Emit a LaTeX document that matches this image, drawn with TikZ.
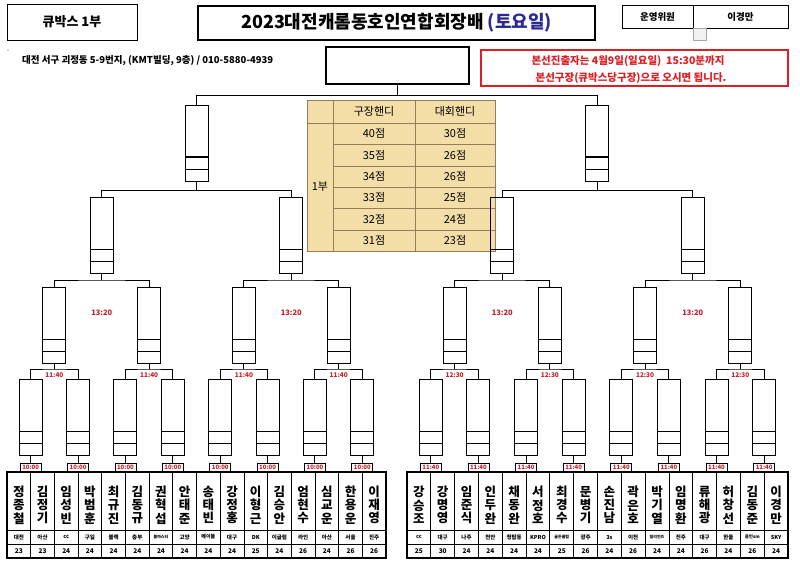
\documentclass[tikz,border=0pt]{standalone}
\usepackage{fontspec}
\setmainfont{Noto Sans CJK KR}
\usetikzlibrary{calc}
\definecolor{tanfill}{RGB}{244,222,168}
\definecolor{tanline}{RGB}{150,125,90}
\definecolor{tmred}{RGB}{200,30,40}
\definecolor{notered}{RGB}{222,30,36}
\definecolor{navyblue}{RGB}{40,40,150}

\newcommand\bracketside[8]{%
  \node[mbox] (#3a) at ({#1+8*#2},143) {};
  \foreach \k in {4,12}{\node[mbox] (#3b\k) at ({#1+\k*#2},235.5) {};}
  \foreach \k in {2,6,10,14}{\node[mbox] (#3c\k) at ({#1+\k*#2},325.5) {};}
  \foreach \k in {1,3,...,15}{%
    \node[mbox] (#3d\k) at ({#1+\k*#2},417.5) {};
    \node[tbox] (#3t\k) at ({#1+\k*#2},467.5) {#5};
    \draw[link] (#3d\k.south) -- (#3t\k.north);}
  \path (#3a.south) ++(0,9) coordinate (#3ja);
  \draw[link] (#3a.south) -- (#3ja);
  \draw[link] (#3b4.north) |- (#3ja) -| (#3b12.north);
  \foreach \k in {4,12}{%
    \pgfmathtruncatemacro\ka{\k-2}\pgfmathtruncatemacro\kb{\k+2}%
    \path (#3b\k.south) ++(0,6) coordinate (#3jb\k);
    \draw[link] (#3b\k.south) -- (#3jb\k);
    \draw[link] (#3c\ka.north) |- (#3jb\k) -| (#3c\kb.north);
    \node[tm, font=\fontsize{7.5}{8}\selectfont\bfseries] (#3m\k) at ({#1+\k*#2},313) {13:20};}
  \foreach \k in {2,6,10,14}{%
    \pgfmathtruncatemacro\ka{\k-1}\pgfmathtruncatemacro\kb{\k+1}%
    \path (#3c\k.south) ++(0,5) coordinate (#3jc\k);
    \draw[link] (#3c\k.south) -- (#3jc\k);
    \draw[link] (#3d\ka.north) |- (#3jc\k) -| (#3d\kb.north);
    \node[tm] (#3n\k) at ({#1+\k*#2},375.5) {#4};}
  \foreach \k in {1,...,15}{\draw[gridline] ({#1+\k*#2},472) -- ({#1+\k*#2},558);}
  \draw[gridline] (#1,530) -- ({#1+16*#2},530);
  \draw[gridline] (#1,544) -- ({#1+16*#2},544);
  \draw[outerline] (#1,472) rectangle ({#1+16*#2},558);
  \foreach \nm [count=\c from 0] in {#6}{%
    \node[namefont] (#3p\c) at ({#1+(\c+0.5)*#2},505) {\nm};}
  \foreach \cl [count=\c from 0] in {#7}{%
    \node[clubfont] (#3q\c) at ({#1+(\c+0.5)*#2},537) {\cl};}
  \foreach \sc [count=\c from 0] in {#8}{%
    \node[scorefont] (#3s\c) at ({#1+(\c+0.5)*#2},551.5) {\sc};}
}

\begin{document}
\begin{tikzpicture}[x=1pt,y=-1pt,
  mbox/.style={draw, line width=1pt, minimum width=23pt, minimum height=76pt, inner sep=0pt,
    path picture={\draw[line width=1pt] ([yshift=12pt]path picture bounding box.south west) -- ([yshift=12pt]path picture bounding box.south east);
                  \draw[line width=1.2pt] ([yshift=24pt]path picture bounding box.south west) -- ([yshift=24pt]path picture bounding box.south east);}},
  link/.style={line width=1pt},
  tm/.style={text=tmred, font=\fontsize{6.5}{7}\selectfont\bfseries, inner sep=0.5pt},
  tbox/.style={draw, line width=0.8pt, minimum width=21pt, minimum height=9pt, inner sep=0pt, fill=white, text=tmred, font=\fontsize{6}{7}\selectfont\bfseries},
  gridline/.style={line width=0.8pt},
  outerline/.style={line width=1.2pt},
  namefont/.style={align=center, inner sep=0pt, font=\fontsize{12.5}{13.3}\selectfont\bfseries},
  clubfont/.style={inner sep=0pt, font=\fontsize{5.5}{6}\selectfont\bfseries},
  scorefont/.style={inner sep=0pt, font=\fontsize{6.5}{7}\selectfont\bfseries},
  tline/.style={draw=tanline, line width=0.6pt},
  ttext/.style={inner sep=0pt, font=\fontsize{11}{12}\selectfont}
]
\useasboundingbox (0,0) rectangle (800,568);
\fill[white] (0,0) rectangle (800,568);

% header
\node[draw, line width=1pt, minimum width=130pt, minimum height=36pt, inner sep=0pt,
  font=\fontsize{13}{15}\selectfont\bfseries] (clubbox) at (72,22) {큐박스 1부};
\node[draw, line width=2pt, minimum width=397pt, minimum height=34pt, inner sep=0pt,
  font=\fontsize{18}{20}\selectfont\bfseries] (titlebox) at (396.5,22.5) {2023대전캐롬동호인연합회장배 \textcolor{navyblue}{(토요일)}};
\node[draw, line width=1pt, minimum width=71pt, minimum height=23pt, inner sep=0pt,
  font=\fontsize{9.5}{11}\selectfont\bfseries] (staffa) at (657.5,16.5) {운영위원};
\node[draw, line width=1pt, minimum width=95pt, minimum height=23pt, inner sep=0pt,
  font=\fontsize{9.5}{11}\selectfont\bfseries] (staffb) at (740.5,16.5) {이경만};
\node[draw=gray!70, fill=gray!10, line width=0.8pt, minimum width=13pt, minimum height=12pt, inner sep=0pt] (greysq) at (699.5,34) {};
\fill[gray!60] (8,50) circle (0.8);
\node[anchor=west, inner sep=0pt, font=\fontsize{9.5}{11}\selectfont\bfseries] (addr) at (22,61)
  {대전 서구 괴정동 5-9번지, (KMT빌딩, 9층) / 010-5880-4939};
\node[draw, line width=1.1pt, minimum width=143pt, minimum height=37pt, inner sep=0pt] (final) at (397.5,65.5) {};
\node[draw=notered, line width=2pt, minimum width=307pt, minimum height=36pt, inner sep=0pt] (notice) at (634.5,68) {};
\node[text=notered, inner sep=0pt, font=\fontsize{10.5}{12}\selectfont\bfseries] (note1) at (628,61.5) {본선진출자는 4월9일(일요일)\ \ 15:30분까지};
\node[text=notered, inner sep=0pt, font=\fontsize{10.5}{12}\selectfont\bfseries] (note2) at (631,78.5) {본선구장(큐박스당구장)으로 오시면 됩니다.};

% handicap table
\fill[tanfill] (307,100) rectangle (495,251);
\draw[tline] (307,100) rectangle (495,251);
\draw[tline] (333,100) -- (333,251);
\draw[tline] (415,100) -- (415,251);
\draw[tline] (307,123) -- (495,123);
\foreach \yy in {144,166,187,208,230}{\draw[tline] (333,\yy) -- (495,\yy);}
\node[ttext] (th1) at (374,111.5) {구장핸디};
\node[ttext] (th2) at (455,111.5) {대회핸디};
\node[ttext] (tdiv) at (320,187) {1부};
\foreach \a/\b/\yy [count=\r] in {40/30/133.5,35/26/155,34/26/176.5,33/25/197.5,32/24/219,31/23/240.5}{%
  \node[ttext] (ta\r) at (374,\yy) {{\a}점};
  \node[ttext] (tb\r) at (455,\yy) {{\b}점};}

% brackets
\bracketside{7}{23.69}{L}{11:40}{10:00}%
  {{정\\종\\철},{김\\정\\기},{임\\성\\빈},{박\\범\\훈},{최\\규\\진},{김\\동\\규},{권\\혁\\섭},{안\\태\\준},{송\\태\\빈},{강\\정\\홍},{이\\형\\근},{김\\승\\안},{엄\\현\\수},{심\\교\\운},{한\\용\\운},{이\\재\\영}}%
  {대전,아산,cc,구일,블랙,충부,{\fontsize{4}{5}\selectfont 블마스터},고양,{\fontsize{5}{6}\selectfont 메이블},대구,DK,이글림,라인,아산,서울,진주}%
  {23,23,24,24,24,24,24,24,24,24,25,24,26,24,26,26}
\bracketside{407}{23.81}{R}{12:30}{11:40}%
  {{강\\승\\조},{강\\명\\영},{임\\준\\식},{인\\두\\완},{채\\동\\완},{서\\정\\호},{최\\경\\수},{문\\병\\기},{손\\진\\남},{곽\\은\\호},{박\\기\\열},{임\\명\\환},{류\\해\\광},{허\\창\\선},{김\\동\\준},{이\\경\\만}}%
  {cc,대구,나주,천안,청탑동,KPRO,{\fontsize{4}{5}\selectfont 골든클럽},광주,3s,이천,{\fontsize{4}{5}\selectfont 빌리언즈},진주,대구,한울,{\fontsize{4.5}{5}\selectfont 용인sm},SKY}%
  {25,30,24,24,24,24,25,26,24,26,24,24,26,24,26,24}

\path (final.south) ++(0,11) coordinate (jtop);
\draw[link] (final.south) -- (jtop);
\draw[link] (La.north) |- (jtop) -| (Ra.north);
\end{tikzpicture}
\end{document}
